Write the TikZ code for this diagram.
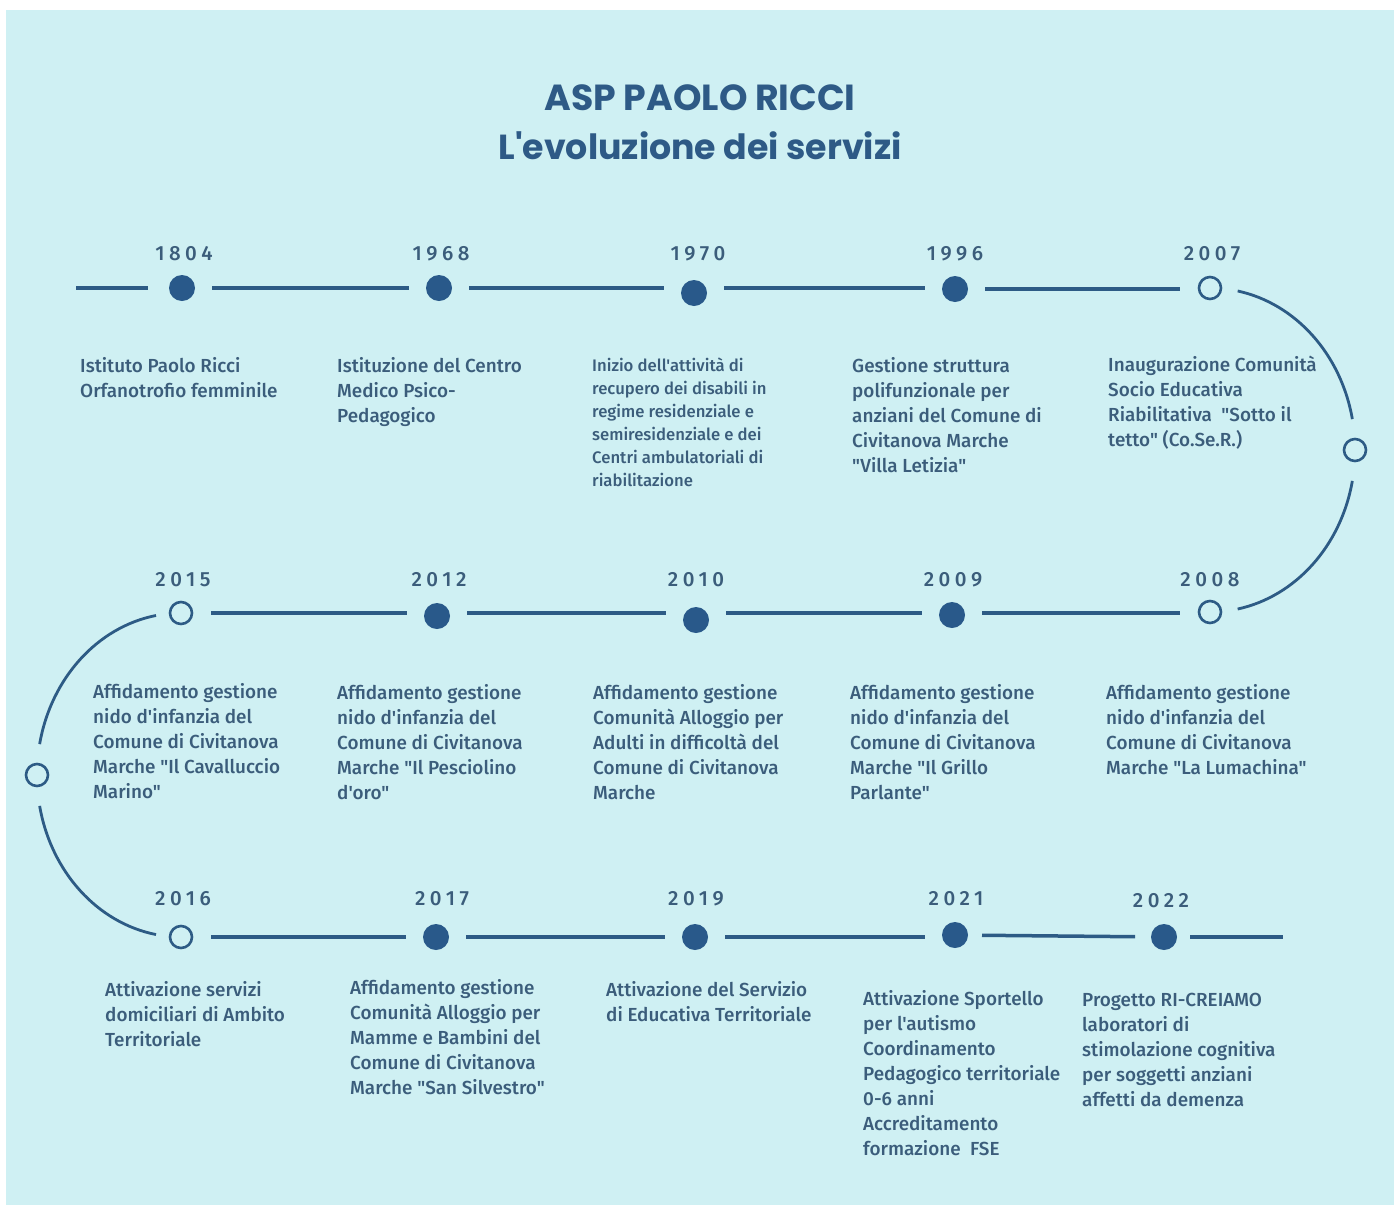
\documentclass[tikz,border=0pt]{standalone}
\usepackage{fontspec}
\setmainfont{Fira Sans Medium}[Ligatures=TeXOff]
\newfontfamily\yearfont[LetterSpace=22,Ligatures=TeXOff]{Fira Sans Medium}
\newfontfamily\titlefont[Ligatures=TeXOff]{Poppins Bold}
\definecolor{bgc}{HTML}{CFF0F3}
\definecolor{linec}{HTML}{2D5B85}
\definecolor{dotc}{HTML}{29598A}
\definecolor{txtc}{HTML}{3B5D7B}
\definecolor{titlec}{HTML}{2E5A86}
\newcommand\mytbox[1]{\parbox[t]{320pt}{\raggedright #1}}
\tikzset{
  conn/.style={draw=linec, line width=3.5pt},
  fdot/.style={circle, fill=dotc, minimum size=26pt, inner sep=0},
  odot/.style={circle, draw=linec, line width=2.6pt, minimum size=22pt, inner sep=0},
  yr/.style={text=txtc, font=\yearfont\fontsize{20.5}{22}\selectfont, inner sep=0, anchor=base},
  txt/.style={anchor=base west, inner sep=0, text=txtc, font=\fontsize{18.9}{25}\selectfont},
  txts/.style={anchor=base west, inner sep=0, text=txtc, font=\fontsize{16.7}{23}\selectfont},
  gap/.style={shorten <=30pt, shorten >=30pt}
}
\begin{document}
\begin{tikzpicture}[x=1pt,y=-1pt]
\useasboundingbox (0,0) rectangle (1394,1205);
\fill[white] (0,0) rectangle (1394,1205);
\fill[bgc] (6,10) rectangle (1394,1205);
% title
\node[text=titlec, inner sep=0] (t1) at (700,98) {\resizebox{311pt}{!}{\titlefont ASP PAOLO RICCI}};
\node[text=titlec, inner sep=0] (t2) at (700,146) {\resizebox{403pt}{!}{\titlefont L'evoluzione dei servizi}};
% row 1 dots
\node[fdot] (d1804) at (182,288) {};
\node[fdot] (d1968) at (439,288) {};
\node[fdot] (d1970) at (694,293) {};
\node[fdot] (d1996) at (955,289) {};
\node[odot] (d2007) at (1210,288) {};
% row 2
\node[odot] (d2015) at (181,613) {};
\node[fdot] (d2012) at (437,616) {};
\node[fdot] (d2010) at (696,620) {};
\node[fdot] (d2009) at (952,615) {};
\node[odot] (d2008) at (1210,612) {};
% row 3
\node[odot] (d2016) at (181,937) {};
\node[fdot] (d2017) at (436,937) {};
\node[fdot] (d2019) at (695,937) {};
\node[fdot] (d2021) at (955,935) {};
\node[fdot] (d2022) at (1164,937) {};
% side circles
\node[odot] (sr) at (1355,450) {};
\node[odot] (sl) at (37,775) {};
\coordinate (ecr) at (1210,450);
\coordinate (ecl) at (181,775);
\coordinate (start) at (76,288);
\coordinate (finish) at (1283,937);
% connectors row 1
\draw[conn] (start) -- ([xshift=-34pt]d1804.center);
\draw[conn,gap] (d1804.center) -- (d1804.center -| d1968.center);
\draw[conn,gap] (d1968.center) -- (d1968.center -| d1970.center);
\draw[conn,gap] (d1968.center -| d1970.center) -- (d1968.center -| d1996.center);
\draw[conn,gap] (d1996.center) -- (d1996.center -| d2007.center);
% row 2
\draw[conn,gap] (d2015.center) -- (d2015.center -| d2012.center);
\draw[conn,gap] (d2015.center -| d2012.center) -- (d2015.center -| d2010.center);
\draw[conn,gap] (d2015.center -| d2010.center) -- (d2015.center -| d2009.center);
\draw[conn,gap] (d2015.center -| d2009.center) -- (d2015.center -| d2008.center);
% row 3
\draw[conn,gap] (d2016.center) -- (d2016.center -| d2017.center);
\draw[conn,gap] (d2017.center) -- (d2017.center -| d2019.center);
\draw[conn,gap] (d2019.center) -- (d2019.center -| d2021.center);
\draw[conn,shorten <=27pt, shorten >=29pt] (d2021.center) -- (d2022.center);
\draw[conn] ([xshift=26pt]d2022.center) -- (finish);
% arcs
\draw[conn, line width=2.8pt] ([shift={(-79:145pt and 162pt)}]ecr) arc[start angle=-79, end angle=-11, x radius=145pt, y radius=162pt];
\draw[conn, line width=2.8pt] ([shift={(11:145pt and 162pt)}]ecr) arc[start angle=11, end angle=79, x radius=145pt, y radius=162pt];
\draw[conn, line width=2.8pt] ([shift={(-100:144pt and 162pt)}]ecl) arc[start angle=-100, end angle=-169, x radius=144pt, y radius=162pt];
\draw[conn, line width=2.8pt] ([shift={(169:144pt and 162pt)}]ecl) arc[start angle=169, end angle=100, x radius=144pt, y radius=162pt];
% years
\node[yr] (y1804) at (184,260) {1804};
\node[yr] (y1968) at (441,260) {1968};
\node[yr] (y1970) at (698,260) {1970};
\node[yr] (y1996) at (955,260) {1996};
\node[yr] (y2007) at (1212,260) {2007};
\node[yr] (y2015) at (183,586) {2015};
\node[yr] (y2012) at (439,586) {2012};
\node[yr] (y2010) at (696,586) {2010};
\node[yr] (y2009) at (953,586) {2009};
\node[yr] (y2008) at (1210,586) {2008};
\node[yr] (y2016) at (183,905) {2016};
\node[yr] (y2017) at (442,905) {2017};
\node[yr] (y2019) at (696,905) {2019};
\node[yr] (y2021) at (956,905) {2021};
\node[yr] (y2022) at (1161,907) {2022};
% texts row 1
\node[txt] (e1804) at (80,372) {\mytbox{Istituto Paolo Ricci\\Orfanotrofio femminile}};
\node[txt] (e1968) at (337,372) {\mytbox{Istituzione del Centro\\Medico Psico-\\Pedagogico}};
\node[txts] (e1970) at (592,371) {\mytbox{Inizio dell'attività di\\recupero dei disabili in\\regime residenziale e\\semiresidenziale e dei\\Centri ambulatoriali di\\riabilitazione}};
\node[txt] (e1996) at (852,372) {\mytbox{Gestione struttura\\polifunzionale per\\anziani del Comune di\\Civitanova Marche\\"Villa Letizia"}};
\node[txt] (e2007) at (1108,371) {\mytbox{Inaugurazione Comunità\\Socio Educativa\\Riabilitativa\ \ "Sotto il\\tetto" (Co.Se.R.)}};
% row 2
\node[txt] (e2015) at (93,698) {\mytbox{Affidamento gestione\\nido d'infanzia del\\Comune di Civitanova\\Marche "Il Cavalluccio\\Marino"}};
\node[txt] (e2012) at (337,699) {\mytbox{Affidamento gestione\\nido d'infanzia del\\Comune di Civitanova\\Marche "Il Pesciolino\\d'oro"}};
\node[txt] (e2010) at (593,699) {\mytbox{Affidamento gestione\\Comunità Alloggio per\\Adulti in difficoltà del\\Comune di Civitanova\\Marche}};
\node[txt] (e2009) at (850,699) {\mytbox{Affidamento gestione\\nido d'infanzia del\\Comune di Civitanova\\Marche "Il Grillo\\Parlante"}};
\node[txt] (e2008) at (1106,699) {\mytbox{Affidamento gestione\\nido d'infanzia del\\Comune di Civitanova\\Marche "La Lumachina"}};
% row 3
\node[txt] (e2016) at (105,996) {\mytbox{Attivazione servizi\\domiciliari di Ambito\\Territoriale}};
\node[txt] (e2017) at (350,994) {\mytbox{Affidamento gestione\\Comunità Alloggio per\\Mamme e Bambini del\\Comune di Civitanova\\Marche "San Silvestro"}};
\node[txt] (e2019) at (606,996) {\mytbox{Attivazione del Servizio\\di Educativa Territoriale}};
\node[txt] (e2021) at (863,1005) {\mytbox{Attivazione Sportello\\per l'autismo\\Coordinamento\\Pedagogico territoriale\\0-6 anni\\Accreditamento\\formazione\ \ FSE}};
\node[txt] (e2022) at (1082,1006) {\mytbox{Progetto RI-CREIAMO\\laboratori di\\stimolazione cognitiva\\per soggetti anziani\\affetti da demenza}};
\end{tikzpicture}
\end{document}
